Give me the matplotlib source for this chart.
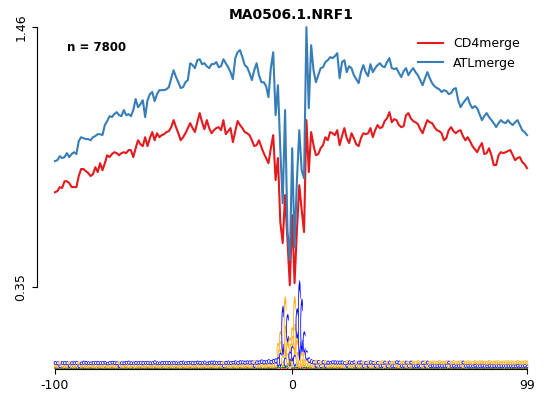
import matplotlib

matplotlib.use("Agg")
import matplotlib.pyplot as plt
from matplotlib import transforms
from matplotlib.font_manager import FontProperties
from matplotlib.patches import PathPatch
from matplotlib.textpath import TextPath


TITLE = "MA0506.1.NRF1"
N_LABEL = "n = 7800"
POSITIONS = list(range(-100, 100))

CD4 = [
    0.755, 0.760, 0.777, 0.773, 0.802, 0.802, 0.794, 0.777, 0.777, 0.777,
    0.824, 0.854, 0.854, 0.845, 0.837, 0.824, 0.832, 0.862, 0.841, 0.879,
    0.849, 0.879, 0.913, 0.905, 0.918, 0.926, 0.922, 0.913, 0.922, 0.926,
    0.922, 0.935, 0.935, 0.905, 0.943, 0.977, 0.960, 0.952, 0.990, 0.952,
    0.986, 1.012, 0.977, 1.007, 0.990, 0.999, 1.003, 1.012, 1.016, 1.033,
    1.063, 1.033, 1.007, 0.977, 0.990, 1.007, 1.029, 1.050, 1.029, 1.012,
    1.054, 1.093, 1.054, 1.024, 1.063, 1.029, 1.007, 1.020, 1.029, 1.033,
    1.020, 1.063, 1.003, 1.016, 1.029, 0.969, 1.016, 1.059, 1.042, 1.029,
    1.012, 1.007, 0.999, 0.977, 0.952, 0.956, 0.977, 0.948, 0.922, 0.901,
    0.879, 0.943, 0.999, 0.807, 0.901, 0.627, 0.538, 0.743, 0.551, 0.358,
    0.657, 0.367, 0.593, 0.785, 0.679, 0.585, 1.063, 0.841, 1.012, 0.956,
    0.913, 0.918, 0.943, 0.956, 0.990, 0.977, 1.012, 1.007, 0.999, 1.020,
    0.956, 0.995, 1.029, 0.986, 0.965, 1.007, 0.986, 0.960, 0.952, 0.986,
    1.007, 1.003, 1.007, 1.029, 0.990, 1.020, 1.042, 1.029, 1.033, 1.059,
    1.071, 1.097, 1.054, 1.067, 1.063, 1.042, 1.033, 1.037, 1.084, 1.093,
    1.071, 1.059, 1.054, 1.046, 1.024, 1.007, 1.037, 1.063, 1.054, 1.050,
    1.033, 1.020, 1.016, 1.007, 0.977, 0.986, 1.020, 1.033, 1.016, 1.007,
    1.016, 1.020, 0.995, 0.977, 0.990, 0.973, 0.952, 0.939, 0.926, 0.948,
    0.965, 0.918, 0.922, 0.943, 0.913, 0.871, 0.871, 0.913, 0.926, 0.922,
    0.926, 0.931, 0.935, 0.913, 0.892, 0.901, 0.905, 0.884, 0.875, 0.858,
]

ATL = [
    0.888, 0.892, 0.909, 0.901, 0.905, 0.922, 0.905, 0.918, 0.926, 0.918,
    0.973, 0.990, 0.986, 0.982, 0.982, 0.977, 0.990, 0.995, 1.003, 1.003,
    0.999, 1.042, 1.059, 1.080, 1.076, 1.089, 1.097, 1.084, 1.080, 1.106,
    1.084, 1.089, 1.080, 1.106, 1.153, 1.118, 1.131, 1.148, 1.076, 1.148,
    1.174, 1.183, 1.144, 1.174, 1.191, 1.191, 1.191, 1.195, 1.204, 1.242,
    1.276, 1.247, 1.225, 1.200, 1.204, 1.225, 1.234, 1.306, 1.298, 1.285,
    1.319, 1.323, 1.302, 1.306, 1.293, 1.285, 1.302, 1.302, 1.311, 1.289,
    1.293, 1.323, 1.306, 1.289, 1.268, 1.238, 1.328, 1.353, 1.362, 1.332,
    1.298, 1.289, 1.264, 1.234, 1.276, 1.306, 1.255, 1.225, 1.225, 1.208,
    1.161, 1.285, 1.353, 1.084, 1.212, 0.935, 0.708, 1.106, 0.593, 0.465,
    0.943, 0.521, 0.807, 1.020, 0.849, 0.815, 1.460, 1.114, 1.383, 1.276,
    1.225, 1.255, 1.285, 1.289, 1.311, 1.319, 1.332, 1.328, 1.336, 1.349,
    1.242, 1.311, 1.319, 1.268, 1.293, 1.285, 1.255, 1.238, 1.221, 1.268,
    1.298, 1.268, 1.251, 1.302, 1.268, 1.285, 1.298, 1.306, 1.293, 1.289,
    1.311, 1.328, 1.285, 1.281, 1.285, 1.264, 1.247, 1.272, 1.285, 1.255,
    1.272, 1.285, 1.268, 1.255, 1.234, 1.212, 1.242, 1.268, 1.242, 1.221,
    1.208, 1.200, 1.195, 1.183, 1.191, 1.187, 1.174, 1.178, 1.195, 1.200,
    1.148, 1.118, 1.135, 1.148, 1.161, 1.131, 1.114, 1.123, 1.114, 1.089,
    1.063, 1.080, 1.093, 1.076, 1.063, 1.050, 1.033, 1.050, 1.063, 1.054,
    1.050, 1.063, 1.050, 1.042, 1.054, 1.063, 1.042, 1.020, 1.012, 0.999,
]

# sequence logo letter heights, in thousandths of the y axis unit
LOGO_C = [
    14, 15, 13, 14, 16, 14, 13, 15, 14, 15, 13, 14, 16, 15, 14, 13, 15, 14, 16, 14,
    15, 14, 13, 15, 14, 16, 15, 13, 14, 15, 14, 16, 14, 13, 15, 14, 15, 16, 14, 15,
    14, 15, 16, 14, 13, 15, 14, 16, 15, 14, 15, 13, 14, 16, 15, 14, 15, 14, 16, 15,
    15, 16, 14, 15, 14, 16, 15, 17, 14, 15, 16, 14, 15, 16, 15, 14, 16, 15, 17, 16,
    16, 15, 17, 16, 15, 17, 16, 18, 17, 16, 18, 17, 19, 20, 40, 60, 210, 40, 120, 40,
    60, 50, 130, 340, 230, 90, 40, 22, 18, 17, 16, 17, 15, 16, 15, 16, 14, 15, 16, 15,
    15, 16, 14, 15, 16, 14, 15, 13, 15, 16, 14, 15, 14, 16, 15, 14, 15, 13, 14, 15,
    14, 15, 13, 14, 15, 16, 14, 13, 15, 14, 15, 14, 13, 15, 14, 16, 14, 15, 13, 14,
    14, 13, 15, 14, 13, 14, 15, 13, 14, 12, 14, 13, 15, 14, 13, 14, 12, 14, 13, 14,
    13, 14, 12, 13, 14, 13, 12, 14, 13, 12, 13, 14, 12, 13, 12, 14, 13, 12, 13, 12,
]
LOGO_G = [
    12, 11, 13, 12, 11, 12, 13, 11, 12, 12, 13, 11, 12, 13, 12, 11, 12, 13, 11, 12,
    12, 13, 11, 12, 13, 12, 11, 13, 12, 11, 12, 13, 12, 11, 13, 12, 12, 11, 13, 12,
    12, 11, 13, 12, 12, 11, 13, 12, 11, 12, 13, 12, 11, 12, 13, 12, 12, 13, 11, 12,
    13, 12, 12, 13, 11, 12, 13, 12, 13, 12, 12, 14, 12, 13, 12, 13, 14, 12, 13, 14,
    13, 14, 13, 14, 15, 13, 14, 15, 14, 15, 16, 15, 17, 18, 60, 90, 50, 260, 100, 60,
    80, 250, 120, 30, 60, 60, 30, 20, 16, 15, 16, 14, 15, 14, 15, 14, 13, 14, 15, 13,
    13, 14, 13, 15, 14, 13, 14, 15, 14, 13, 14, 13, 15, 14, 13, 14, 13, 14, 15, 14,
    14, 13, 14, 15, 14, 13, 14, 15, 14, 14, 13, 15, 14, 15, 14, 13, 15, 14, 15, 14,
    15, 14, 15, 14, 16, 15, 14, 15, 16, 14, 15, 16, 14, 15, 16, 15, 14, 16, 15, 16,
    16, 15, 16, 17, 15, 16, 17, 16, 15, 16, 17, 16, 17, 16, 15, 17, 16, 17, 16, 17,
]
LOGO_A = [
    4, 3, 4, 4, 3, 4, 4, 3, 4, 4, 3, 4, 4, 3, 4, 4, 3, 4, 4, 3,
    4, 4, 3, 4, 4, 3, 4, 4, 3, 4, 4, 3, 4, 4, 3, 4, 4, 3, 4, 4,
    3, 4, 4, 3, 4, 4, 3, 4, 4, 3, 4, 4, 3, 4, 4, 3, 4, 4, 3, 4,
    4, 3, 4, 4, 3, 4, 4, 3, 4, 4, 3, 4, 4, 3, 4, 4, 3, 4, 4, 3,
    4, 4, 3, 4, 4, 3, 4, 4, 3, 4, 4, 3, 4, 4, 6, 6, 5, 5, 8, 20,
    8, 6, 5, 4, 5, 6, 5, 4, 4, 3, 4, 4, 3, 4, 4, 3, 4, 4, 3, 4,
    4, 3, 4, 4, 3, 4, 4, 3, 4, 4, 3, 4, 4, 3, 4, 4, 3, 4, 4, 3,
    4, 4, 3, 4, 4, 3, 4, 4, 3, 4, 4, 3, 4, 4, 3, 4, 4, 3, 4, 4,
    3, 4, 4, 3, 4, 4, 3, 4, 4, 3, 4, 4, 3, 4, 4, 3, 4, 4, 3, 4,
    4, 3, 4, 4, 3, 4, 4, 3, 4, 4, 3, 4, 4, 3, 4, 4, 3, 4, 4, 3,
]
LOGO_T = [
    3, 3, 2, 3, 3, 2, 3, 3, 2, 3, 3, 2, 3, 3, 2, 3, 3, 2, 3, 3,
    2, 3, 3, 2, 3, 3, 2, 3, 3, 2, 3, 3, 2, 3, 3, 2, 3, 3, 2, 3,
    3, 2, 3, 3, 2, 3, 3, 2, 3, 3, 2, 3, 3, 2, 3, 3, 2, 3, 3, 2,
    3, 3, 2, 3, 3, 2, 3, 3, 2, 3, 3, 2, 3, 3, 2, 3, 3, 2, 3, 3,
    2, 3, 3, 2, 3, 3, 2, 3, 3, 2, 3, 3, 2, 3, 5, 5, 4, 4, 6, 15,
    30, 5, 4, 4, 5, 4, 4, 3, 3, 2, 3, 3, 2, 3, 3, 2, 3, 3, 2, 3,
    3, 3, 2, 3, 3, 2, 3, 3, 2, 3, 3, 2, 3, 3, 2, 3, 3, 2, 3, 3,
    2, 3, 3, 2, 3, 3, 2, 3, 3, 2, 3, 3, 2, 3, 3, 2, 3, 3, 2, 3,
    3, 2, 3, 3, 2, 3, 3, 2, 3, 3, 2, 3, 3, 2, 3, 3, 2, 3, 3, 2,
    3, 3, 2, 3, 3, 2, 3, 3, 2, 3, 3, 2, 3, 3, 2, 3, 3, 2, 3, 3,
]

LETTER_COLORS = {"A": "#008000", "C": "#0000ff", "G": "#ffa500", "T": "#ff0000"}
FONT = FontProperties(family="DejaVu Sans")
LETTER_PATHS = {k: TextPath((0, 0), k, size=1, prop=FONT) for k in LETTER_COLORS}


def draw_letter(ax, letter, x, y0, h):
    path = LETTER_PATHS[letter]
    ext = path.get_extents()
    t = (
        transforms.Affine2D()
        .translate(-ext.x0, -ext.y0)
        .scale(0.95 / ext.width, h / ext.height)
        .translate(x - 0.475, y0)
    )
    ax.add_patch(PathPatch(t.transform_path(path), fc=LETTER_COLORS[letter],
                           ec=LETTER_COLORS[letter], lw=0.2))


def draw_logo(ax):
    for k, pos in enumerate(POSITIONS):
        heights = [
            ("A", LOGO_A[k] / 1000.0),
            ("C", LOGO_C[k] / 1000.0),
            ("G", LOGO_G[k] / 1000.0),
            ("T", LOGO_T[k] / 1000.0),
        ]
        heights.sort(key=lambda item: item[1])
        y0 = 0.0
        for letter, h in heights:
            if h <= 0:
                continue
            draw_letter(ax, letter, pos, y0, h)
            y0 += h


def main():
    fig = plt.figure(figsize=(5.53, 3.96), dpi=100)
    ax = fig.add_axes([37 / 553, 27 / 396, 508 / 553, 343 / 396])

    ax.plot(POSITIONS, CD4, color="#e41a1c", linewidth=1.5, label="CD4merge")
    ax.plot(POSITIONS, ATL, color="#377eb8", linewidth=1.5, label="ATLmerge")
    draw_logo(ax)

    ax.set_xlim(-107.6, 106.6)
    ax.set_ylim(0, 1.465)

    for side in ["top", "right"]:
        ax.spines[side].set_visible(False)
    ax.spines["left"].set_bounds(0.35, 1.46)
    ax.spines["bottom"].set_bounds(-100, 99)

    ax.set_xticks([-100, 0, 99])
    ax.set_xticklabels(["-100", "0", "99"], fontsize=9)
    ax.set_yticks([0.35, 1.46])
    ax.set_yticklabels(["0.35", "1.46"], fontsize=9, rotation=90, va="center")

    ax.text(-95, 1.375, N_LABEL, fontsize=8.5, fontweight="bold", va="center", ha="left")
    ax.set_title(TITLE, fontsize=10, fontweight="bold", pad=5)
    ax.legend(loc="upper right", bbox_to_anchor=(1 - 14 / 508, 1.0), frameon=False,
              fontsize=9, handlelength=2.0)

    fig.savefig("out.png", dpi=100)
    plt.close(fig)


if __name__ == "__main__":
    main()
